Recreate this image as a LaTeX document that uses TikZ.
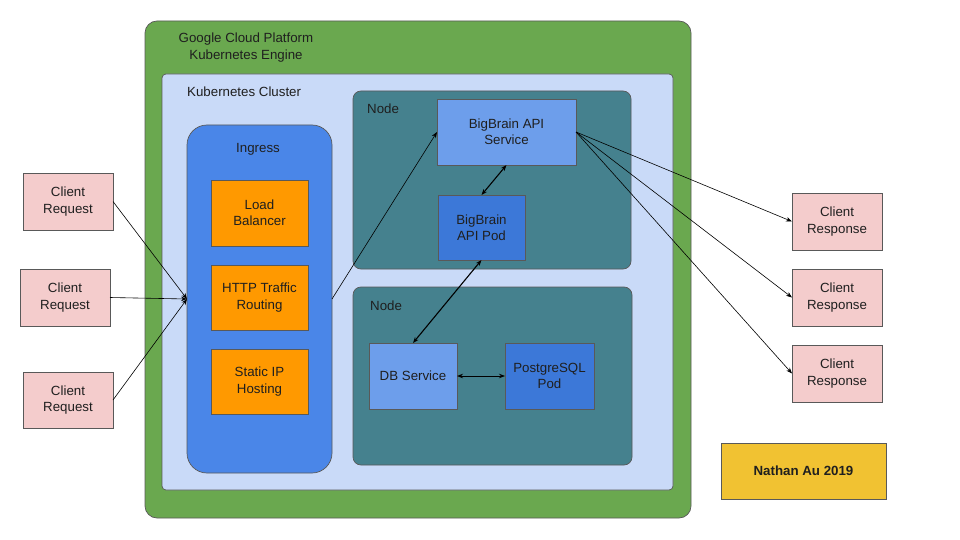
\documentclass[tikz,border=0pt]{standalone}
\usepackage{fontspec}
\setmainfont{Liberation Sans}
\usetikzlibrary{arrows.meta}
\definecolor{gcpgreen}{HTML}{6AA84F}
\definecolor{clusterblue}{HTML}{C9DAF8}
\definecolor{ingressblue}{HTML}{4A86E8}
\definecolor{lborange}{HTML}{FF9900}
\definecolor{nodeteal}{HTML}{45818E}
\definecolor{svcblue}{HTML}{6D9EEB}
\definecolor{podblue}{HTML}{3C78D8}
\definecolor{clientpink}{HTML}{F4CCCC}
\definecolor{signyellow}{HTML}{F1C232}
\definecolor{edgegray}{HTML}{595959}
\definecolor{txt}{HTML}{1F1F1F}
\tikzset{
  box/.style={draw=edgegray, line width=0.7pt, inner sep=0pt, outer sep=0pt, align=center,
    text=txt, font=\fontsize{13.3}{16.2}\selectfont},
  region/.style={box, anchor=north west},
  lbl/.style={inner sep=0pt, text=txt, font=\fontsize{13.3}{16.2}\selectfont, align=center},
  arr/.style={-{Stealth[length=6pt,width=4.5pt]}, line width=0.6pt, black},
  darr/.style={{Stealth[length=6pt,width=4.5pt]}-{Stealth[length=6pt,width=4.5pt]}, line width=1.1pt, black},
}
\begin{document}
\begin{tikzpicture}[x=1pt,y=-1pt]
\useasboundingbox[fill=white] (0,0) rectangle (960,540);
% containers
\node[region, fill=gcpgreen, rounded corners=12pt, minimum width=546pt, minimum height=497pt] (gcp) at (145,21) {};
\node[region, fill=clusterblue, rounded corners=4pt, minimum width=511pt, minimum height=416pt] (cluster) at (162,74) {};
\node[region, fill=ingressblue, rounded corners=20pt, minimum width=145pt, minimum height=348pt] (ingress) at (187,125) {};
\node[region, fill=nodeteal, rounded corners=8pt, minimum width=278pt, minimum height=178pt] (node1) at (353,91) {};
\node[region, fill=nodeteal, rounded corners=8pt, minimum width=279pt, minimum height=178pt] (node2) at (353,287) {};
% container labels
\node[lbl] (gcplbl) at (246,47.5) {Google Cloud Platform\\Kubernetes Engine};
\node[lbl, anchor=west] (clusterlbl) at (187,92) {Kubernetes Cluster};
\node[lbl] (ingresslbl) at (258,149) {Ingress};
\node[lbl, anchor=west] (node1lbl) at (367,109) {Node};
\node[lbl, anchor=west] (node2lbl) at (370,306) {Node};
% ingress parts
\node[box, fill=lborange, minimum width=97pt, minimum height=66pt] (lb) at (259.5,213) {Load\\Balancer};
\node[box, fill=lborange, minimum width=97pt, minimum height=65pt] (http) at (259.5,297.5) {HTTP Traffic\\Routing};
\node[box, fill=lborange, minimum width=97pt, minimum height=65pt] (static) at (259.5,381.5) {Static IP\\Hosting};
% node 1
\node[box, fill=svcblue, minimum width=139pt, minimum height=66pt] (svc) at (506.5,132) {BigBrain API\\Service};
\node[box, fill=podblue, minimum width=87pt, minimum height=65pt] (pod) at (481.5,227.5) {BigBrain\\API Pod};
% node 2
\node[box, fill=svcblue, minimum width=88pt, minimum height=66pt] (dbs) at (413,376) {DB Service};
\node[box, fill=podblue, minimum width=89pt, minimum height=66pt] (pg) at (549.5,376) {PostgreSQL\\Pod};
% clients
\node[box, fill=clientpink, minimum width=90pt, minimum height=57pt] (req1) at (68,201.5) {Client\\Request};
\node[box, fill=clientpink, minimum width=90pt, minimum height=57pt] (req2) at (65,297.5) {Client\\Request};
\node[box, fill=clientpink, minimum width=90pt, minimum height=56pt] (req3) at (68,400) {Client\\Request};
\node[box, fill=clientpink, minimum width=90pt, minimum height=57pt] (resp1) at (837,221.5) {Client\\Response};
\node[box, fill=clientpink, minimum width=90pt, minimum height=57pt] (resp2) at (837,297.5) {Client\\Response};
\node[box, fill=clientpink, minimum width=90pt, minimum height=57pt] (resp3) at (837,373.5) {Client\\Response};
\node[box, fill=signyellow, minimum width=165pt, minimum height=56pt, font=\fontsize{13.3}{16.2}\selectfont\bfseries] (sign) at (803.5,471) {Nathan Au 2019};
% connectors
\draw[arr] (req1.east) -- (ingress.west);
\draw[arr] (req2.east) -- (ingress.west);
\draw[arr] (req3.east) -- (ingress.west);
\draw[arr] (ingress.east) -- (svc.west);
\draw[darr] (svc.south) -- (pod.north);
\draw[darr] (pod.south) -- (dbs.north);
\draw[darr, line width=0.9pt] (dbs.east) -- (pg.west);
\draw[arr] (svc.east) -- (resp1.west);
\draw[arr] (svc.east) -- (resp2.west);
\draw[arr] (svc.east) -- (resp3.west);
\end{tikzpicture}
\end{document}
